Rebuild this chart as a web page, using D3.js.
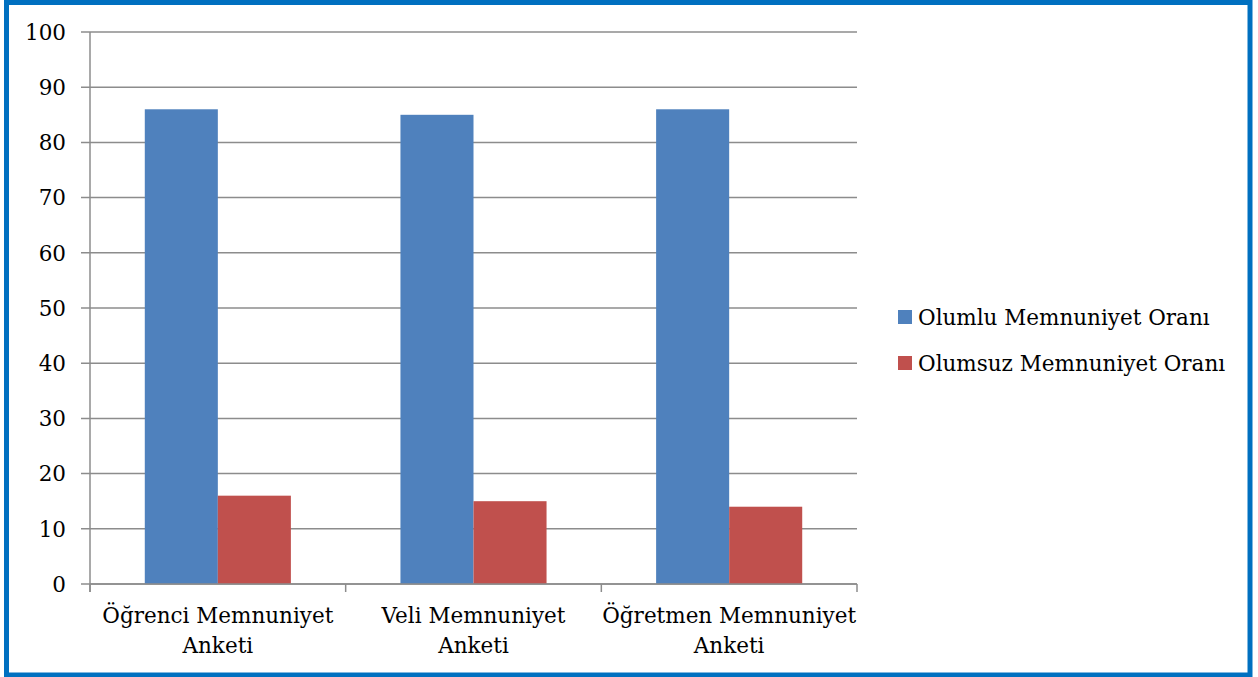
<!DOCTYPE html>
<html>
<head>
<meta charset="utf-8">
<script src="https://cdn.jsdelivr.net/npm/d3@7"></script>
<style>
  html, body { margin: 0; padding: 0; background: #fff; }
  svg { display: block; }
</style>
</head>
<body>
<div id="chart"></div>
<script>
// categories (two-line labels)
const categories = ["Öğrenci Memnuniyet Anketi", "Veli Memnuniyet Anketi", "Öğretmen Memnuniyet Anketi"];
const categoryLines = [["Öğrenci Memnuniyet", "Anketi"], ["Veli Memnuniyet", "Anketi"], ["Öğretmen Memnuniyet", "Anketi"]];
const seriesNames = ["Olumlu Memnuniyet Oranı", "Olumsuz Memnuniyet Oranı"];
const olumlu = [86, 85, 86];
const olumsuz = [16, 15, 14];
const yTicks = [0, 10, 20, 30, 40, 50, 60, 70, 80, 90, 100];
const colors = ["#4f81bd", "#c0504d"];

const width = 1258, height = 677;
const margin = {left: 90, right: 401, top: 32, bottom: 93};
const fontFamily = "'DejaVu Serif', serif";
const fontSize = "21.5px";

const svg = d3.select("#chart")
    .append("svg")
    .attr("width", width)
    .attr("height", height);

// outer frame
svg.append("rect")
    .attr("x", 6.5).attr("y", 2.5)
    .attr("width", 1250 - 6.5).attr("height", 675 - 2.5)
    .attr("fill", "none")
    .attr("stroke", "#0070c0")
    .attr("stroke-width", 5);

const x0 = d3.scaleBand()
    .domain(categories)
    .range([margin.left, width - margin.right])
    .paddingInner(0).paddingOuter(0);

const x1 = d3.scaleBand()
    .domain(seriesNames)
    .range([0, x0.bandwidth()])
    .paddingInner(0).paddingOuter(0.75);

const y = d3.scaleLinear()
    .domain([0, 100])
    .range([height - margin.bottom, margin.top]);

const gridColor = "#8c8c8c";

// gridlines + y ticks
svg.append("g")
    .selectAll("line")
    .data(yTicks)
    .join("line")
    .attr("x1", margin.left - 9)
    .attr("x2", width - margin.right)
    .attr("y1", d => y(d))
    .attr("y2", d => y(d))
    .attr("stroke", gridColor)
    .attr("stroke-width", 1.5);

svg.append("g")
    .selectAll("text")
    .data(yTicks)
    .join("text")
    .attr("x", margin.left - 24)
    .attr("y", d => y(d))
    .attr("dy", "0.36em")
    .attr("text-anchor", "end")
    .attr("font-family", fontFamily)
    .attr("font-size", fontSize)
    .attr("fill", "#000")
    .text(d => d);

// bars
const data = categories.map((c, i) => ({cat: c, values: [olumlu[i], olumsuz[i]]}));

svg.append("g")
    .selectAll("g")
    .data(data)
    .join("g")
    .attr("transform", d => `translate(${x0(d.cat)},0)`)
    .selectAll("rect")
    .data(d => d.values.map((v, j) => ({name: seriesNames[j], value: v, j: j})))
    .join("rect")
    .attr("x", d => x1(d.name))
    .attr("width", x1.bandwidth())
    .attr("y", d => y(d.value))
    .attr("height", d => y(0) - y(d.value))
    .attr("fill", d => colors[d.j]);

// axes lines
svg.append("line")
    .attr("x1", margin.left).attr("x2", margin.left)
    .attr("y1", y(100)).attr("y2", y(0) + 8)
    .attr("stroke", gridColor).attr("stroke-width", 1.5);

svg.append("line")
    .attr("x1", margin.left).attr("x2", width - margin.right)
    .attr("y1", y(0)).attr("y2", y(0))
    .attr("stroke", gridColor).attr("stroke-width", 1.5);

// category tick marks at band boundaries
const bounds = categories.map(c => x0(c)).concat([x0.range()[1]]);
svg.append("g")
    .selectAll("line")
    .data(bounds)
    .join("line")
    .attr("x1", d => d).attr("x2", d => d)
    .attr("y1", y(0)).attr("y2", y(0) + 8)
    .attr("stroke", gridColor).attr("stroke-width", 1.5);

// category labels
const lab = svg.append("g")
    .selectAll("text")
    .data(categories)
    .join("text")
    .attr("x", d => x0(d) + x0.bandwidth() / 2)
    .attr("y", y(0) + 39)
    .attr("text-anchor", "middle")
    .attr("font-family", fontFamily)
    .attr("font-size", fontSize)
    .attr("fill", "#000");

lab.selectAll("tspan")
    .data((d, i) => categoryLines[i])
    .join("tspan")
    .attr("x", function() { return this.parentNode.getAttribute("x"); })
    .attr("dy", (d, i) => i === 0 ? 0 : 30)
    .text(d => d);

// legend
const legend = svg.append("g")
    .selectAll("g")
    .data(seriesNames)
    .join("g")
    .attr("transform", (d, i) => `translate(898, ${317 + i * 46})`);

legend.append("rect")
    .attr("x", 0).attr("y", -7)
    .attr("width", 14).attr("height", 14)
    .attr("fill", (d, i) => colors[i]);

legend.append("text")
    .attr("x", 20)
    .attr("dy", "0.36em")
    .attr("font-family", fontFamily)
    .attr("font-size", fontSize)
    .attr("fill", "#000")
    .text(d => d);
</script>
</body>
</html>
